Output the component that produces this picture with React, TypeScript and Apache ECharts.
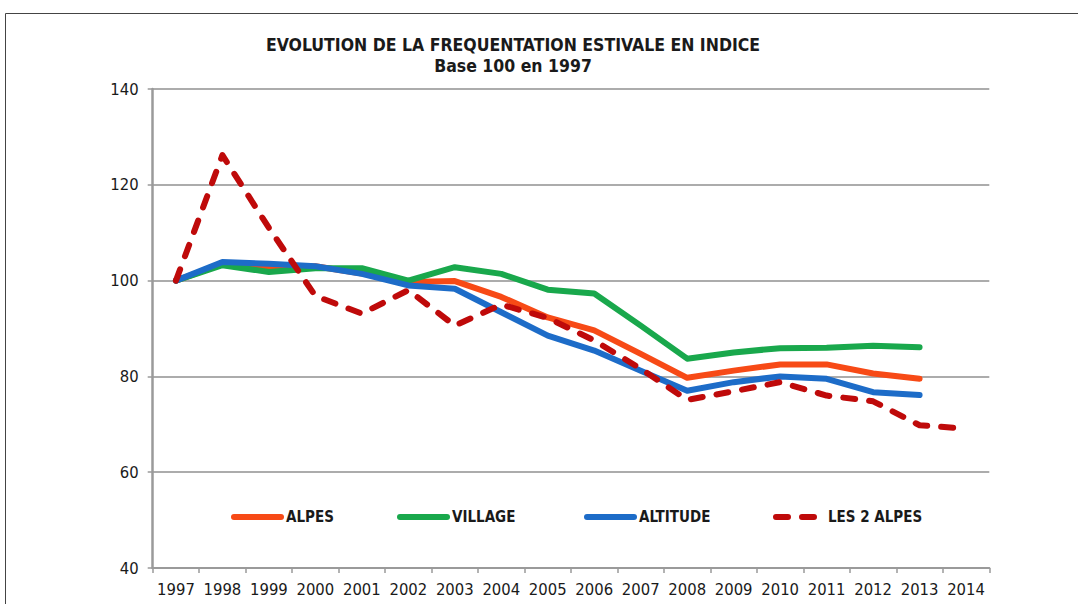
import React, { useEffect, useRef } from "react";
import * as echarts from "echarts";

const years = ["1997","1998","1999","2000","2001","2002","2003","2004","2005","2006","2007","2008","2009","2010","2011","2012","2013","2014"];
const alpes = [100, 103.5, 102.8, 103, 101.5, 99.7, 99.9, 96.6, 92.3, 89.6, 84.7, 79.7, 81.2, 82.5, 82.5, 80.6, 79.5, null];
const village = [100, 103.2, 101.8, 102.6, 102.6, 100.0, 102.8, 101.4, 98.1, 97.3, 90.6, 83.7, 85.0, 85.9, 86.0, 86.4, 86.1, null];
const altitude = [100, 103.9, 103.5, 103.0, 101.4, 99.0, 98.3, 93.4, 88.5, 85.4, 81.2, 77.0, 78.8, 80.0, 79.5, 76.7, 76.1, null];
const les2alpes = [100, 126.2, 111, 96.8, 93.1, 98.0, 90.6, 95, 92.2, 87.5, 81.6, 75.1, 76.9, 78.8, 76.0, 74.8, 69.8, 69.1];
const seriesNames = ["ALPES", "VILLAGE", "ALTITUDE", "LES 2 ALPES"];
const colors = ["#f74a16", "#19a84c", "#1d6cc8", "#bf0a0a"];
const legendLefts = [231, 397, 584, 773];
const title = "EVOLUTION DE LA FREQUENTATION ESTIVALE EN INDICE";
const subtitle = "Base 100 en 1997";

const FONT = "'DejaVu Sans Condensed', 'DejaVu Sans', sans-serif";

export default function App() {
  const ref = useRef<HTMLDivElement>(null);
  useEffect(() => {
    if (!ref.current) return;
    const chart = echarts.init(ref.current, null, { renderer: "svg" });
    const data = [alpes, village, altitude, les2alpes];
    chart.setOption({
      animation: false,
      backgroundColor: "#ffffff",
      title: {
        text: title,
        subtext: subtitle,
        left: 508,
        top: 31,
        textAlign: "center",
        itemGap: 3,
        textStyle: { fontFamily: FONT, fontSize: 17.5, fontWeight: "bold", color: "#1a1a1a" },
        subtextStyle: { fontFamily: FONT, fontSize: 17.5, fontWeight: "bold", color: "#1a1a1a" },
      },
      graphic: [
        {
          type: "rect",
          shape: { x: 5.5, y: 13.5, width: 1200, height: 800 },
          style: { fill: "none", stroke: "#444", lineWidth: 1 },
          silent: true,
        },
      ],
      legend: seriesNames.map((name, i) => ({
        left: legendLefts[i],
        top: 509,
        padding: 0,
        itemWidth: 47,
        itemHeight: 20,
        itemGap: 4,
        itemStyle: { opacity: 0 },
        lineStyle: { width: 6, cap: "round" },
        textStyle: { fontFamily: FONT, fontSize: 15, color: "#1a1a1a", fontWeight: "bold" },
        data: [name],
      })),
      grid: { left: 152.7, right: 88.7, top: 89, bottom: 36, containLabel: false },
      xAxis: {
        type: "category",
        data: years,
        boundaryGap: true,
        axisLine: { lineStyle: { color: "#9a9a9a", width: 2 } },
        axisTick: { show: true, length: 5, interval: 0, lineStyle: { color: "#9a9a9a", width: 1.5 } },
        axisLabel: { fontFamily: FONT, fontSize: 16.5, color: "#1a1a1a", margin: 13, interval: 0 },
      },
      yAxis: {
        type: "value",
        min: 40,
        max: 140,
        interval: 20,
        axisLine: { show: true, lineStyle: { color: "#9a9a9a", width: 2.5 } },
        axisTick: { show: true, length: 5, lineStyle: { color: "#9a9a9a", width: 1.5 } },
        axisLabel: { fontFamily: FONT, fontSize: 16.5, color: "#1a1a1a", margin: 14 },
        splitLine: { lineStyle: { color: "#acacac", width: 2 } },
      },
      series: seriesNames.map((name, i) => ({
        name,
        type: "line",
        data: data[i],
        symbol: "none",
        color: colors[i],
        lineStyle: i === 3
          ? { color: colors[i], width: 6, type: [12, 14], cap: "round", join: "round" }
          : { color: colors[i], width: 6, cap: "round", join: "round" },
        z: 2 + i,
      })),
    });
    return () => chart.dispose();
  }, []);
  return <div ref={ref} style={{ position: "fixed", left: 0, top: 0, width: 1078, height: 604 }} />;
}
